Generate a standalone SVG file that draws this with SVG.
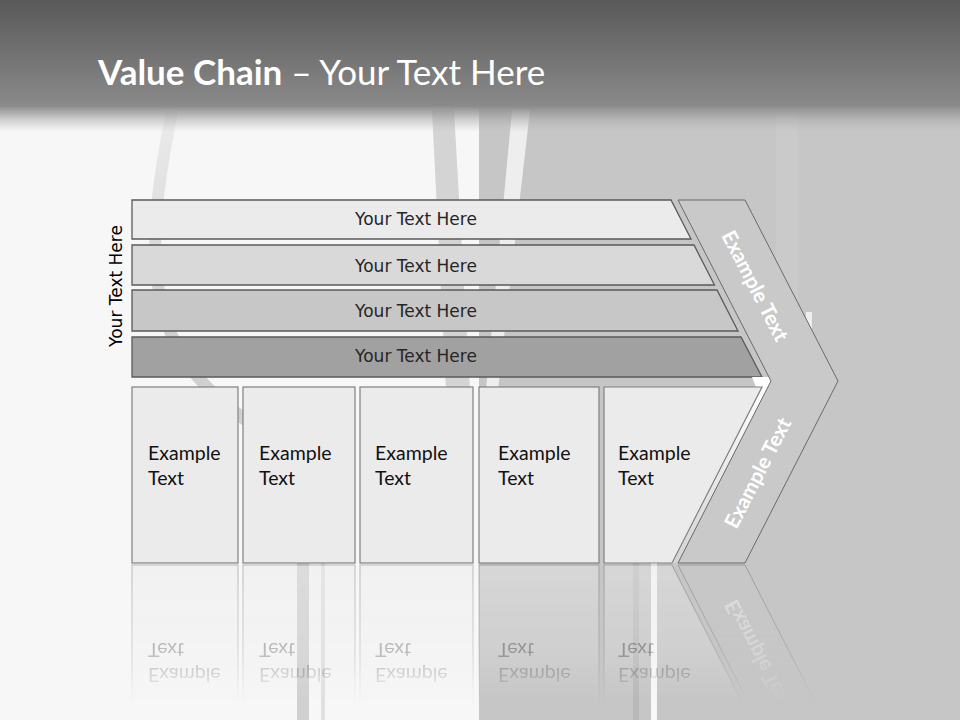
<svg xmlns="http://www.w3.org/2000/svg" xmlns:xlink="http://www.w3.org/1999/xlink" width="960" height="720" viewBox="0 0 960 720">
<defs>
<style>
.bar{stroke:#5a5a5a;stroke-width:1.3}
.box{fill:#ebebeb;stroke:#808080;stroke-width:1.2}
.chev{fill:#c9c9c9;stroke:#6a6a6a;stroke-width:1}
.bt{font-family:"DejaVu Sans",Verdana,sans-serif;font-size:17px;fill:#262626;text-anchor:middle}
.xt{font-family:Lato,"Open Sans",sans-serif;font-size:19.5px;fill:#111}
.ct{font-family:Lato,"Open Sans",sans-serif;font-size:20.5px;font-weight:bold;fill:#ffffff;text-anchor:middle}
.title{font-family:Lato,"Open Sans",sans-serif;font-size:35px;fill:#ffffff}
</style>
<linearGradient id="banner" gradientUnits="userSpaceOnUse" x1="0" y1="0" x2="0" y2="132">
<stop offset="0" stop-color="#595959"/>
<stop offset="0.8" stop-color="#8a8a8a"/>
<stop offset="0.86" stop-color="#999" stop-opacity="0.75"/>
<stop offset="1" stop-color="#bbb" stop-opacity="0"/>
</linearGradient>
<linearGradient id="fadeG" gradientUnits="userSpaceOnUse" x1="0" y1="564" x2="0" y2="704">
<stop offset="0" stop-color="#fff" stop-opacity="0.45"/>
<stop offset="0.65" stop-color="#fff" stop-opacity="0.25"/>
<stop offset="1" stop-color="#fff" stop-opacity="0"/>
</linearGradient>
<mask id="fade" maskUnits="userSpaceOnUse" x="0" y="560" width="960" height="160">
<rect x="0" y="560" width="960" height="160" fill="url(#fadeG)"/>
</mask>
<linearGradient id="gapG" gradientUnits="userSpaceOnUse" x1="0" y1="381" x2="0" y2="563">
<stop offset="0" stop-color="#ffffff"/>
<stop offset="1" stop-color="#d4d4d4"/>
</linearGradient>
<linearGradient id="stalkG" gradientUnits="userSpaceOnUse" x1="0" y1="110" x2="0" y2="330">
<stop offset="0" stop-color="#ececec"/>
<stop offset="1" stop-color="#d0d0d0"/>
</linearGradient>
</defs>

<g id="background">
<rect x="0" y="0" width="960" height="720" fill="#f7f7f7"/>
<rect x="479" y="0" width="481" height="720" fill="#c6c6c6"/>
<path d="M172,112 C150,220 140,320 205,385 C250,430 300,450 303,500 L303,720" fill="none" stroke="url(#stalkG)" stroke-width="12"/>
<rect x="321" y="470" width="4" height="250" fill="#e0e0e0"/>
<polygon points="432,110 454,110 470,390 446,390" fill="#c4c4c4" opacity="0.7"/>
<polygon points="512,110 530,110 498,390 486,390" fill="#f4f4f4" opacity="0.85"/>
<rect x="633" y="560" width="6" height="160" fill="#b8b8b8"/>
<rect x="651" y="560" width="6" height="160" fill="#f8f8f8"/>
<rect x="776" y="115" width="22" height="220" fill="#ffffff" opacity="0.08"/>
<rect x="806" y="312" width="6" height="18" fill="#ffffff" opacity="0.7"/>
<rect x="0" y="0" width="960" height="132" fill="url(#banner)"/>
</g>

<g id="title">
<text class="title" x="98" y="85"><tspan font-weight="bold">Value Chain</tspan> – Your Text Here</text>
</g>

<g id="axis-label">
<text class="bt" style="fill:#000" transform="translate(122,286) rotate(-90)" x="0" y="0">Your Text Here</text>
</g>

<g id="bar1"><polygon class="bar" fill="#ebebeb" points="132,200 671,200 691,239 132,239"/><text class="bt" x="416" y="225">Your Text Here</text></g>
<g id="bar2"><polygon class="bar" fill="#d9d9d9" points="132,245 694,245 714.5,285 132,285"/><text class="bt" x="416" y="272">Your Text Here</text></g>
<g id="bar3"><polygon class="bar" fill="#c7c7c7" points="132,290 717,290 738,331 132,331"/><text class="bt" x="416" y="317">Your Text Here</text></g>
<g id="bar4"><polygon class="bar" fill="#a1a1a1" points="132,337 741,337 762,377 132,377"/><text class="bt" x="416" y="362">Your Text Here</text></g>

<polygon points="752,377 769,377 771,381 768,387 756,387" fill="#ffffff"/>
<polygon points="762,387 768,387 678,563 672,563" fill="url(#gapG)"/>

<g id="lower">
<g id="box1"><rect class="box" x="132" y="387" width="106" height="176"/><text class="xt" x="148" y="460">Example</text><text class="xt" x="148" y="485">Text</text></g>
<g id="box2"><rect class="box" x="243" y="387" width="112" height="176"/><text class="xt" x="259" y="460">Example</text><text class="xt" x="259" y="485">Text</text></g>
<g id="box3"><rect class="box" x="360" y="387" width="113" height="176"/><text class="xt" x="375" y="460">Example</text><text class="xt" x="375" y="485">Text</text></g>
<g id="box4"><rect class="box" x="479" y="387" width="120" height="176"/><text class="xt" x="498" y="460">Example</text><text class="xt" x="498" y="485">Text</text></g>
<g id="box5"><polygon class="box" points="604,387 762,387 672,563 604,563"/><text class="xt" x="618" y="460">Example</text><text class="xt" x="618" y="485">Text</text></g>
<g id="chevron"><polygon class="chev" points="678,200 745,200 838,381 745,563 678,563 771,381"/>
<text class="ct" transform="translate(755,286) rotate(62.8)" x="0" y="7">Example Text</text>
<text class="ct" transform="translate(758,473) rotate(-62.8)" x="0" y="7">Example Text</text></g>
</g>

<g id="reflection" mask="url(#fade)">
<use xlink:href="#lower" transform="translate(0,1128) scale(1,-1)"/>
</g>
</svg>
